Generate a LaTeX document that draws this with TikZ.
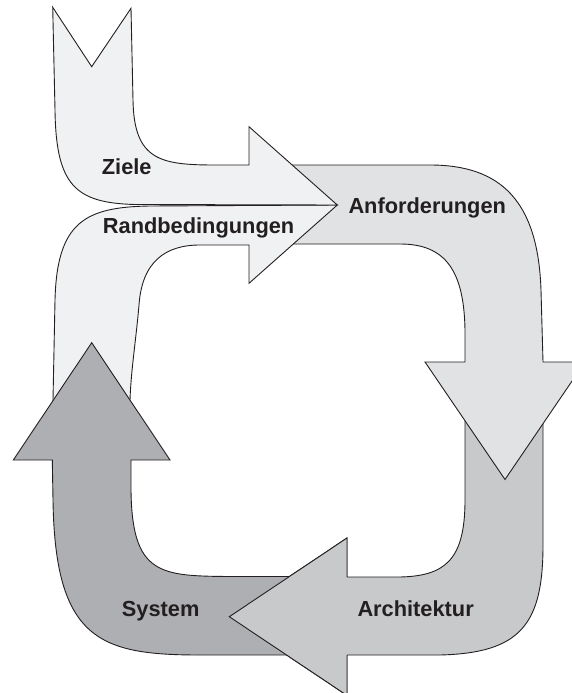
\documentclass[tikz,border=0pt]{standalone}
\usepackage{fontspec}
\setmainfont{Liberation Sans}
\definecolor{lightA}{RGB}{240,241,242}
\definecolor{greyB}{RGB}{225,226,228}
\definecolor{greyC}{RGB}{200,201,203}
\definecolor{greyD}{RGB}{174,175,178}
\definecolor{ink}{RGB}{35,31,32}
\tikzset{
  band/.style={draw=ink, line width=0.9pt, line join=miter},
  label/.style={anchor=base west, inner sep=0pt, text=ink,
    font=\fontsize{21.8}{26}\selectfont\bfseries}
}
\begin{document}
\begin{tikzpicture}[x=1pt,y=-1pt]
\useasboundingbox (0,0) rectangle (572,693);
\clip (0,0) rectangle (572,693);

% Architektur: down the right side, then left along the bottom
\path[band, fill=greyC]
  (465,400) -- (543,400) -- (543,545)
  .. controls (543,625) and (520,653) .. (440,655)
  -- (347,655) -- (347,695.4) -- (229.3,616.7) -- (347,538) -- (347,577)
  -- (400,577) .. controls (445,576) and (465,560) .. (465,500) -- cycle;

% Anforderungen: along the top, then down the right side
\path[band, fill=greyB]
  (285,165) -- (430,165)
  .. controls (500,165) and (538,200) .. (541,290)
  -- (543,362) -- (585,362) -- (505,479.5) -- (425,362) -- (465,362)
  -- (465,330) .. controls (464,270) and (445,244) .. (400,244)
  -- (285,244) -- cycle;

% Randbedingungen: up the left side, then right into the shared head
\path[band, fill=lightA]
  (337.3,205) -- (150,206)
  .. controls (85,207) and (57,222) .. (55,300)
  -- (53,400) -- (53,450) -- (130,450) -- (130,400)
  .. controls (131,370) and (136,340) .. (139,305)
  .. controls (142,262) and (165,245) .. (200,245)
  -- (249,245) -- (249,283.3) -- cycle;

% Ziele: down from the notched tail, then right into the shared head
\path[band, fill=lightA]
  (52.7,7.3) -- (91.7,66.7) -- (131,8.3) -- (133,100)
  .. controls (134,160) and (160,165) .. (215,165)
  -- (249,165) -- (249,126.7) -- (337.3,205) -- (135,204.5)
  .. controls (75,203) and (56,185) .. (55,110) -- cycle;

% System: left along the bottom, then up the left side
\path[band, fill=greyD]
  (91.7,342.7) -- (170,460) -- (131,460) -- (131,490)
  .. controls (132,575) and (160,576) .. (230,576.5)
  -- (300,576.5) -- (300,655) -- (200,655)
  .. controls (100,655) and (55,640) .. (53,500)
  -- (52.3,460) -- (13.3,460) -- cycle;

% Architektur head once more, lying over the System tail
\fill[greyC] (347,538) -- (229.3,616.7) -- (347,695.4) -- cycle;
\draw[band] (347,577) -- (347,538) -- (229.3,616.7) -- (347,695.4) -- (347,655);

% Labels
\node[label] (ziele) at (101.7,174.3) {Ziele};
\node[label] (rand) at (102.7,233.3) {Randbedingungen};
\node[label] (anf) at (348.3,213.3) {Anforderungen};
\node[label] (sys) at (121.7,616.7) {System};
\node[label] (arch) at (357.3,616.3) {Architektur};
\end{tikzpicture}
\end{document}
